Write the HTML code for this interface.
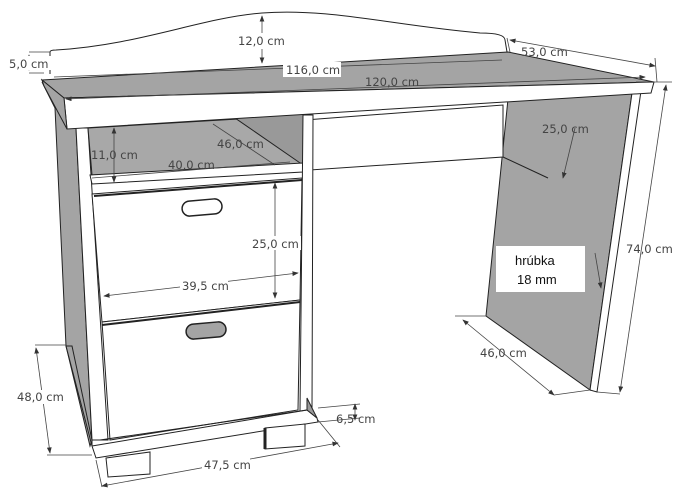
<!DOCTYPE html>
<html><head><meta charset="utf-8"><style>
html,body{margin:0;padding:0;background:#fff}
svg{display:block}
text{font-family:"DejaVu Sans","Liberation Sans",sans-serif;font-size:11.5px;fill:#444}
</style></head><body>
<svg width="688" height="495" viewBox="0 0 688 495" xmlns="http://www.w3.org/2000/svg">
<defs><marker id="a" markerWidth="8" markerHeight="6" refX="7" refY="3" orient="auto-start-reverse"><path d="M0,0 L8,3 L0,6z" fill="#333"/></marker></defs>
<g stroke="#222" stroke-width="1" fill="none">
<path d="M50,74 L50,52 Q50,50 56,50 C140,45 200,18 262,13 C330,8 390,25 480,33 Q505,33 505,40 L507,52" fill="#fff"/>
<polygon points="508,99 632,93 590,390 486,316" fill="#a4a4a4"/>
<polygon points="632,93 641,91 597,392 590,390" fill="#fff"/>
<polygon points="305,120 503,105 503,157 310,170" fill="#fff"/>
<path d="M503,157 L548,178"/>
<!-- left gray side -->
<polygon points="42,82 64,100 67,128 76,128 92,440 90,446 66,346 55,108" fill="#a4a4a4"/>
<polygon points="66,346 72,346 92,440 92,446" fill="#a4a4a4"/>
<polygon points="76,128 88,128 108,440 92,440" fill="#fff"/>
<polygon points="88,128 305,115 303,165 92,175" fill="#a8a8a8"/>
<polygon points="235,118 305,113 303,165" fill="#999"/>
<polygon points="90,175 303,163 303,172 92,184" fill="#fff"/>
<polygon points="92,194 302,178 300,300 102,322" fill="#fff"/>
<polygon points="102,322 300,300 298,410 110,440" fill="#fff"/>
<path d="M94,196 L302,180" stroke-width="2"/>
<path d="M102,325 L300,302" stroke-width="2"/>
<polygon points="303,115 313,115 312,410 300,412" fill="#fff"/>
<polygon points="92,446 307,410 317,418 318,422 96,458" fill="#fff"/>
<polygon points="307,398 317,418 307,410" fill="#999"/>
<path d="M100,440 L307,410"/>
<polygon points="106,458 150,452 150,474 108,477" fill="#fff"/>
<polygon points="265,428 305,424 305,446 265,449" fill="#fff"/>
<path d="M265,428 L265,449" stroke-width="3"/>
<polygon points="42,80 508,52 654,82 64,98" fill="#a4a4a4"/>
<polygon points="64,98 654,82 651,93 67,129" fill="#fff"/>
<polygon points="42,80 64,98 67,129 44,86" fill="#a4a4a4"/>
<rect x="182" y="200" width="40" height="15" rx="7.5" transform="rotate(-5 202 207)" fill="#fff" stroke-width="1.5"/>
<rect x="186" y="323" width="40" height="15" rx="7.5" transform="rotate(-5 206 330)" fill="#a4a4a4" stroke-width="1.5"/>
</g>
<g stroke="#444" stroke-width="0.8" fill="none">
<path d="M262,16 L262,63" marker-start="url(#a)" marker-end="url(#a)"/>
<path d="M29,52 L50,52 M29,73 L44,73"/>
<path d="M29,55 L29,70" marker-start="url(#a)" marker-end="url(#a)"/>
<path d="M54,77 L502,60"/>
<path d="M66,99 L645,77" marker-start="url(#a)" marker-end="url(#a)"/>
<path d="M507,38 L510,52 M655,58 L657,82"/>
<path d="M510,40 L655,66" marker-start="url(#a)" marker-end="url(#a)"/>
<path d="M636,82 L672,82"/>
<path d="M666,85 L620,392" marker-start="url(#a)" marker-end="url(#a)"/>
<path d="M597,392 L620,394"/>
<path d="M455,316 L486,316"/>
<path d="M463,320 L554,395" marker-start="url(#a)" marker-end="url(#a)"/>
<path d="M554,395 L590,390"/>
<path d="M575,128 L563,178" marker-end="url(#a)"/>
<path d="M114,128 L114,182" marker-start="url(#a)" marker-end="url(#a)"/>
<path d="M92,178 L290,162"/>
<path d="M213,124 L275,165"/>
<path d="M275,183 L275,298" marker-start="url(#a)" marker-end="url(#a)"/>
<path d="M104,296 L298,273" marker-start="url(#a)" marker-end="url(#a)"/>
<path d="M35,345 L66,345 M47,455 L92,455"/>
<path d="M36,348 L50,453" marker-start="url(#a)" marker-end="url(#a)"/>
<path d="M96,460 L102,487 M318,420 L340,447"/>
<path d="M102,486 L338,443" marker-start="url(#a)" marker-end="url(#a)"/>
<path d="M318,408 L360,404 M318,422 L360,418"/>
<path d="M355,404 L355,420" marker-start="url(#a)" marker-end="url(#a)"/>
<path d="M595,253 L601,288" marker-end="url(#a)"/>
</g>
<g>
<rect x="232" y="33" width="60" height="16" fill="#fff"/><text x="238" y="45">12,0 cm</text>
<rect x="7" y="56" width="44" height="14" fill="#fff"/><text x="9" y="68">5,0 cm</text>
<rect x="283" y="62" width="58" height="15" fill="#fff"/><text x="286" y="74">116,0 cm</text>
<text x="365" y="86">120,0 cm</text>
<text x="521" y="56">53,0 cm</text>
<text x="542" y="133">25,0 cm</text>
<text x="626" y="253">74,0 cm</text>
<text x="480" y="357">46,0 cm</text>
<text x="91" y="159">11,0 cm</text>
<text x="168" y="169">40,0 cm</text>
<text x="217" y="148">46,0 cm</text>
<rect x="249" y="236" width="52" height="14" fill="#fff"/><text x="252" y="248">25,0 cm</text>
<rect x="180" y="278" width="48" height="14" fill="#fff"/><text x="182" y="290">39,5 cm</text>
<rect x="16" y="390" width="48" height="14" fill="#fff"/><text x="17" y="401">48,0 cm</text>
<rect x="202" y="457" width="48" height="14" fill="#fff"/><text x="204" y="469">47,5 cm</text>
<text x="336" y="423">6,5 cm</text>
<rect x="496" y="246" width="89" height="46" fill="#fff"/>
<text x="515" y="265" style="font-family:'Liberation Sans','DejaVu Sans',sans-serif;font-size:13px;fill:#111">hrúbka</text>
<text x="517" y="284" style="font-family:'Liberation Sans','DejaVu Sans',sans-serif;font-size:13px;fill:#111">18 mm</text>
</g>
</svg>
</body></html>
